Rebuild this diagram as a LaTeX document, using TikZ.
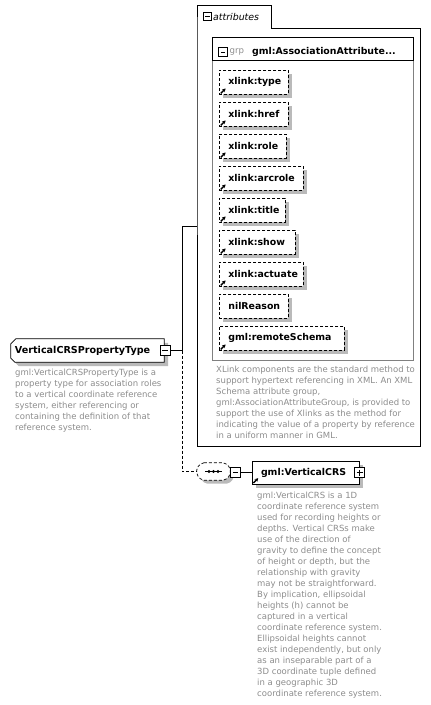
\documentclass[tikz,border=0pt]{standalone}
\usepackage{fontspec}
\setmainfont{DejaVu Sans}
\usetikzlibrary{shadows,arrows.meta,backgrounds}
\definecolor{descgray}{RGB}{140,140,140}
\definecolor{shadowgray}{RGB}{186,186,186}
\definecolor{boxgray}{RGB}{128,128,128}
\begin{document}
\begin{tikzpicture}[x=1pt,y=-1pt,
  lbl/.style={font=\fontsize{9.4}{11}\selectfont\bfseries},
  desc/.style={font=\fontsize{8.5}{10.9}\selectfont, text=descgray, align=left, anchor=north west, inner sep=0pt},
  shad/.style={drop shadow={shadow xshift=3.5pt,shadow yshift=-3.5pt,fill=shadowgray,opacity=1}},
  minusbox/.style={draw, fill=white, minimum size=9pt, inner sep=0pt, line width=0.8pt,
    path picture={\draw[line width=0.8pt] ([xshift=2pt]path picture bounding box.west) -- ([xshift=-2pt]path picture bounding box.east);}},
  plusbox/.style={draw, fill=white, minimum size=9pt, inner sep=0pt, line width=0.8pt,
    path picture={\draw[line width=0.8pt] ([xshift=2pt]path picture bounding box.west) -- ([xshift=-2pt]path picture bounding box.east)
      ([yshift=-2pt]path picture bounding box.north) -- ([yshift=2pt]path picture bounding box.south);}},
  dashline/.style={dashed, dash pattern=on 3pt off 2pt},
  attrbox/.style={draw, dashline, line width=0.7pt, fill=white, shad, minimum height=24pt,
    inner xsep=9pt, inner ysep=0pt, anchor=north west, align=left, lbl},
  refarrow/.style={line width=1.3pt, -{Stealth[length=3.4pt,width=3.8pt]}},
  conn/.style={line width=0.7pt}
]
\useasboundingbox (0,0) rectangle (431,705);

% attributes container
\draw[line width=0.7pt] (197,28) -- (197,5) -- (271,5) -- (271,28) -- (420,28) -- (420,446) -- (197,446) -- cycle;
\node[minusbox, minimum size=8.5pt] (tabminus) at (207.5,16.5) {};
\node[anchor=west, inner sep=0pt, font=\fontsize{9.4}{11}\selectfont\itshape] (tablbl) at (213,16.5) {attributes};

% group box
\draw[boxgray, line width=0.7pt] (212,60) rectangle (413,360);
\draw[line width=0.7pt] (212,60) -- (212,37) -- (413,37) -- (413,60) -- cycle;
\node[minusbox, minimum size=8.5pt] (grpminus) at (223,52) {};
\node[anchor=west, inner sep=0pt, font=\fontsize{8.6}{10}\selectfont, text=descgray] (grp) at (229.5,52) {grp};
\node[anchor=west, inner sep=0pt, lbl] (grpname) at (252,52) {gml:AssociationAttribute...};

% attribute boxes
\foreach \i/\w/\t/\ar in {0/69/xlink:type/1, 1/69/xlink:href/1, 2/67/xlink:role/1, 3/84/xlink:arcrole/1,
  4/66/xlink:title/1, 5/76/xlink:show/1, 6/84/xlink:actuate/1, 7/69/nilReason/0, 8/125/gml:remoteSchema/1}{
  \node[attrbox, text width=\w pt-18pt] (a\i) at (219,70+32*\i) {\t};
  \ifnum\ar=1
    \draw[refarrow] ([xshift=1.8pt,yshift=1.4pt]a\i.south west) -- ++(4.8,-4.8);
  \fi
}

\node[desc] (attrdesc) at (216,366) {XLink components are the standard method to\\
support hypertext referencing in XML. An XML\\
Schema attribute group,\\
gml:AssociationAttributeGroup, is provided to\\
support the use of Xlinks as the method for\\
indicating the value of a property by reference\\
in a uniform manner in GML.};

% main type node (outline drawn on background layer)
\node[minimum width=153pt, minimum height=23pt, inner xsep=4pt, inner ysep=0pt, text width=145pt, align=left,
  font=\fontsize{9.6}{11}\selectfont\bfseries] (main) at (87.5,350.5) {VerticalCRSPropertyType};
\begin{scope}[on background layer]
  \fill[shadowgray, transform canvas={xshift=4pt,yshift=-4pt}] ([xshift=5pt]main.north west) -- (main.north east) -- (main.south east)
    -- ([xshift=4pt]main.south west) -- ([yshift=4pt]main.south west) -- ([yshift=-5pt]main.north west) -- cycle;
  \draw[line width=0.8pt, fill=white] ([xshift=5pt]main.north west) -- (main.north east) -- (main.south east)
    -- ([xshift=4pt]main.south west) -- ([yshift=4pt]main.south west) -- ([yshift=-5pt]main.north west) -- cycle;
\end{scope}
\node[minusbox, minimum size=10pt] (mainminus) at (165,350.5) {};
\node[desc] (maindesc) at (15,369) {gml:VerticalCRSPropertyType is a\\
property type for association roles\\
to a vertical coordinate reference\\
system, either referencing or\\
containing the definition of that\\
reference system.};

% connectors
\coordinate (fork) at (182,350.5);
\coordinate (attrin) at (197,226);
\draw[conn] (mainminus.east) -- (fork) |- (attrin);

% sequence compositor
\node[minimum width=33pt, minimum height=17pt, inner sep=0pt] (seq) at (213.5,471.5) {};
\fill[shadowgray, rounded corners=2pt, transform canvas={xshift=3.5pt,yshift=-3.5pt}] ([xshift=5pt]seq.north west) -- ([xshift=-5pt]seq.north east)
  -- ([yshift=-5pt]seq.north east) -- ([yshift=5pt]seq.south east) -- ([xshift=-5pt]seq.south east)
  -- ([xshift=5pt]seq.south west) -- ([yshift=5pt]seq.south west) -- ([yshift=-5pt]seq.north west) -- cycle;
\draw[dashline, line width=0.7pt, fill=white, rounded corners=2pt] ([xshift=5pt]seq.north west) -- ([xshift=-5pt]seq.north east)
  -- ([yshift=-5pt]seq.north east) -- ([yshift=5pt]seq.south east) -- ([xshift=-5pt]seq.south east)
  -- ([xshift=5pt]seq.south west) -- ([yshift=5pt]seq.south west) -- ([yshift=-5pt]seq.north west) -- cycle;
\draw[line width=0.8pt] ([xshift=-8.5pt]seq.center) -- ([xshift=8.5pt]seq.center);
\foreach \dx in {-4.5,0,4.5} \fill ([xshift=\dx pt]seq.center) circle (1.6pt);
\draw[conn, dashline] (fork) |- (seq.west);
\node[minusbox, minimum size=9.5pt] (seqminus) at (235.5,472.5) {};

% VerticalCRS element
\node[draw, line width=0.8pt, fill=white, shad, minimum height=23pt, inner xsep=9pt, inner ysep=0pt,
  text width=89pt, align=left, lbl] (vcrs) at (305.5,472.5) {gml:VerticalCRS};
\draw[refarrow] ([xshift=1.8pt,yshift=1.4pt]vcrs.south west) -- ++(4.8,-4.8);
\node[plusbox, minimum size=10pt] (vcrsplus) at (359.5,472.5) {};
\draw[conn] (seqminus.east) -- (vcrs.west);

\node[desc, font=\fontsize{8.5}{11}\selectfont] (vcrsdesc) at (257,492) {gml:VerticalCRS is a 1D\\
coordinate reference system\\
used for recording heights or\\
depths. Vertical CRSs make\\
use of the direction of\\
gravity to define the concept\\
of height or depth, but the\\
relationship with gravity\\
may not be straightforward.\\
By implication, ellipsoidal\\
heights (h) cannot be\\
captured in a vertical\\
coordinate reference system.\\
Ellipsoidal heights cannot\\
exist independently, but only\\
as an inseparable part of a\\
3D coordinate tuple defined\\
in a geographic 3D\\
coordinate reference system.};
\end{tikzpicture}
\end{document}
